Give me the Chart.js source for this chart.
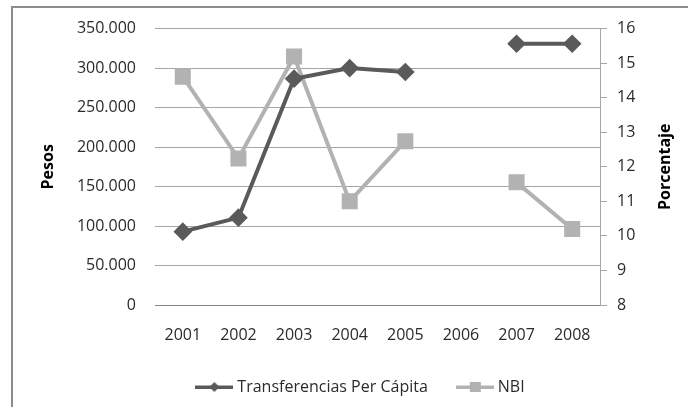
<!DOCTYPE html>
<html>
<head>
<meta charset="utf-8">
<script src="https://cdn.jsdelivr.net/npm/chart.js@4"></script>
<style>
  html, body { margin: 0; padding: 0; background: #fff; }
  body { width: 688px; height: 407px; position: relative; overflow: hidden; }
  .frame { position: absolute; left: 11px; top: 6px; width: 700px; height: 420px; border: 2px solid #8c8c8c; box-sizing: border-box; }
  .wrap { position: absolute; left: 0; top: 0; width: 688px; height: 407px; }
</style>
</head>
<body>
<div class="frame"></div>
<div class="wrap"><canvas id="chart"></canvas></div>
<script>
const years = ['2001', '2002', '2003', '2004', '2005', '2006', '2007', '2008'];
const transferencias = [92900, 110600, 286600, 300000, 295000, null, 330800, 330800];
const nbi = [14.61, 12.24, 15.19, 11.0, 12.74, null, 11.55, 10.2];
const seriesNames = ['Transferencias Per Cápita', 'NBI'];
const axisTitles = ['Pesos', 'Porcentaje'];

const darkGray = '#5a5a5a';
const lightGray = '#b2b2b2';

Chart.defaults.font.family = "'Open Sans', sans-serif";
Chart.defaults.font.size = 16;
Chart.defaults.color = '#2b2b2b';

// legend icons: short line with the marker in the middle
function makeIcon(color, shape) {
    const c = document.createElement('canvas');
    c.width = 38;
    c.height = 14;
    const ctx = c.getContext('2d');
    ctx.fillStyle = color;
    ctx.fillRect(0, 5.5, 38, 3.5);
    ctx.beginPath();
    if (shape === 'diamond') {
        ctx.moveTo(19, 2); ctx.lineTo(24, 7); ctx.lineTo(19, 12); ctx.lineTo(14, 7);
    } else {
        ctx.rect(14, 2, 11, 10);
    }
    ctx.closePath();
    ctx.fill();
    return c;
}
const legendIcons = [makeIcon(darkGray, 'diamond'), makeIcon(lightGray, 'square')];

const axisTitlePlugin = {
    id: 'axisTitles',
    afterDraw(chart) {
        const ctx = chart.ctx;
        const area = chart.chartArea;
        const cy = (area.top + area.bottom) / 2;
        ctx.save();
        ctx.fillStyle = '#000';
        ctx.font = "bold 16px 'Open Sans', sans-serif";
        ctx.textAlign = 'center';
        ctx.textBaseline = 'middle';
        [[48, axisTitles[0]], [665, axisTitles[1]]].forEach(([x, text]) => {
            ctx.save();
            ctx.translate(x, cy);
            ctx.rotate(-Math.PI / 2);
            ctx.fillText(text, 0, 0);
            ctx.restore();
        });
        ctx.restore();
    }
};

new Chart(document.getElementById('chart'), {
    type: 'line',
    data: {
        labels: years,
        datasets: [{
            label: seriesNames[0],
            data: transferencias,
            yAxisID: 'y',
            borderColor: darkGray,
            backgroundColor: darkGray,
            borderWidth: 4,
            pointStyle: 'rectRot',
            pointRadius: 6.5,
            pointBackgroundColor: darkGray,
            pointBorderColor: darkGray,
            tension: 0,
            spanGaps: false
        }, {
            label: seriesNames[1],
            data: nbi,
            yAxisID: 'y1',
            borderColor: lightGray,
            backgroundColor: lightGray,
            borderWidth: 4,
            pointStyle: 'rect',
            pointRadius: 8.5,
            pointBackgroundColor: lightGray,
            pointBorderColor: lightGray,
            tension: 0,
            spanGaps: false
        }]
    },
    options: {
        responsive: true,
        maintainAspectRatio: false,
        animation: false,
        layout: {
            padding: { left: 36, right: 0, top: 28, bottom: 2 }
        },
        scales: {
            x: {
                offset: true,
                grid: { display: false },
                border: { display: true, color: '#868686', width: 1 },
                ticks: { padding: 13 },
                afterFit(scale) { scale.height = 42; }
            },
            y: {
                position: 'left',
                min: 0,
                max: 350000,
                grid: { color: '#a6a6a6', drawTicks: false },
                border: { display: false },
                ticks: {
                    stepSize: 50000,
                    padding: 19,
                    callback: v => v === 0 ? '0' : String(v).replace(/\B(?=(\d{3})+(?!\d))/g, '.')
                },
                afterFit(scale) { scale.width = 119; }
            },
            y1: {
                position: 'right',
                min: 8,
                max: 16,
                grid: { drawOnChartArea: false, color: '#a6a6a6', tickLength: 7 },
                border: { display: true, color: '#a6a6a6' },
                ticks: { stepSize: 1, padding: 10 },
                afterFit(scale) { scale.width = 88; }
            }
        },
        plugins: {
            legend: {
                position: 'bottom',
                labels: {
                    usePointStyle: true,
                    pointStyleWidth: 30,
                    padding: 32,
                    generateLabels(chart) {
                        const items = Chart.defaults.plugins.legend.labels.generateLabels(chart);
                        items.forEach((it, i) => { it.pointStyle = legendIcons[i]; });
                        return items;
                    }
                }
            },
            tooltip: { enabled: false }
        }
    },
    plugins: [axisTitlePlugin]
});
</script>
</body>
</html>
